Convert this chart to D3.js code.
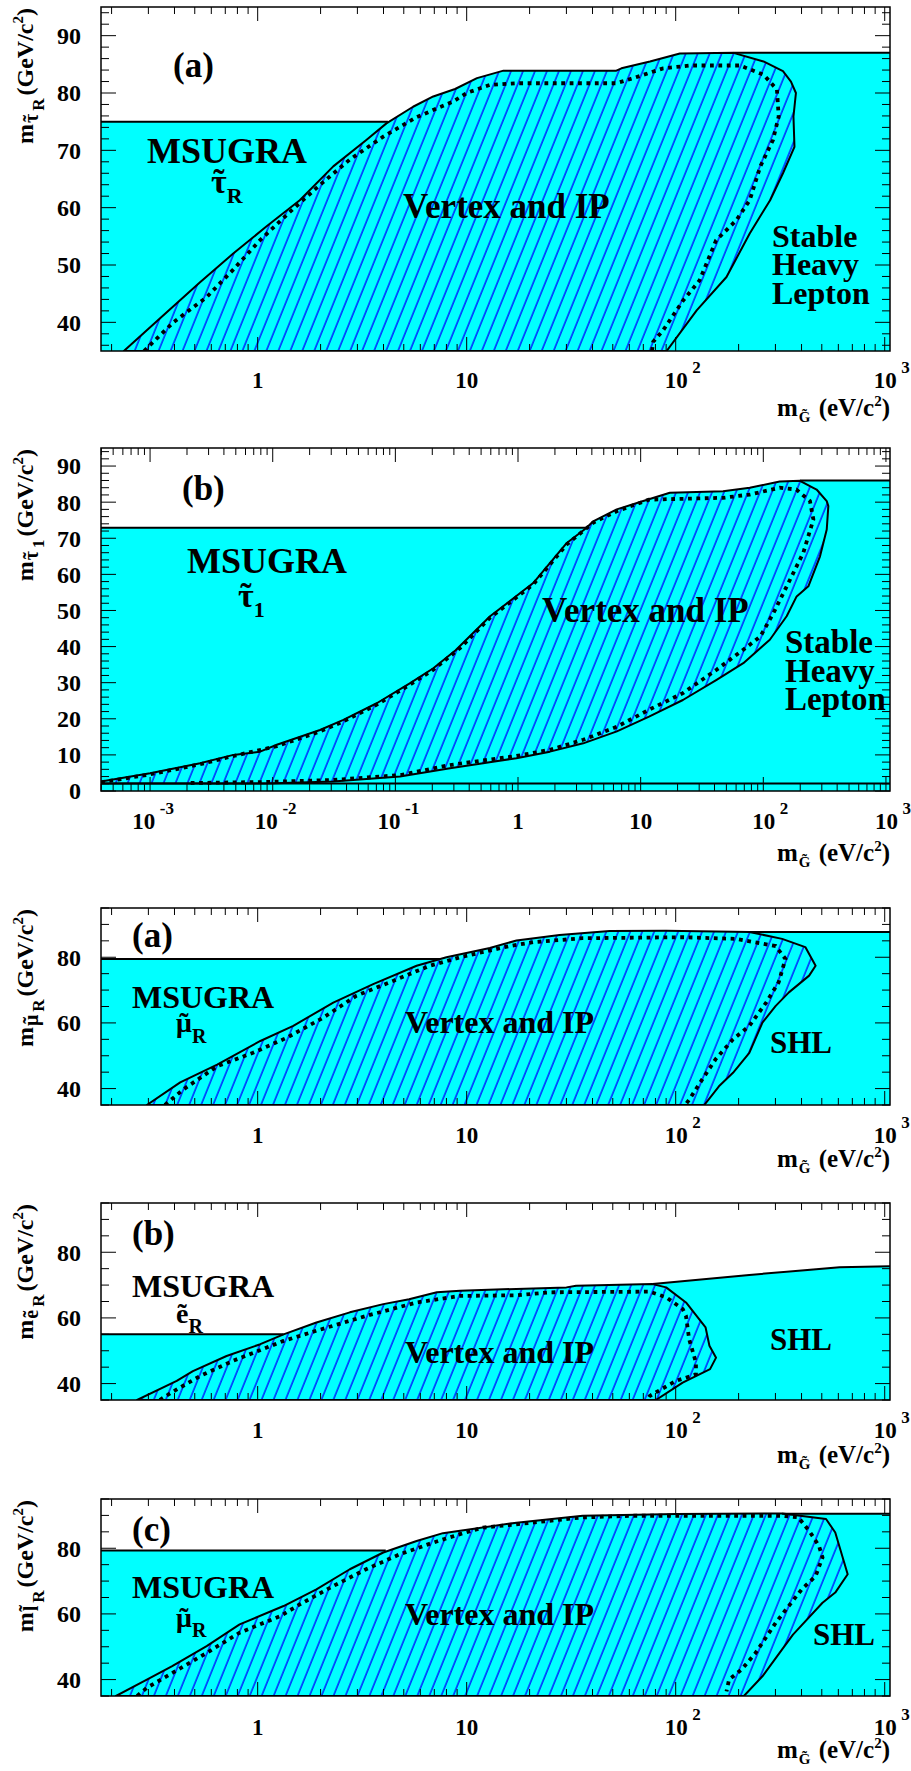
<!DOCTYPE html>
<html><head><meta charset="utf-8">
<script src="https://cdn.jsdelivr.net/npm/d3@7"></script>
<style>
body{margin:0;background:#fff}
svg text{font-family:'Liberation Serif','Times New Roman',serif;font-weight:bold;fill:#000}
</style>
</head><body>
<svg id="chart" width="911" height="1771"></svg>
<script>
// ---------------- DATA ----------------
const xDomainA = [0.178, 1060];
const xDomainB = [3.98e-4, 1079];
const yDomainA = [35, 95];
const yDomainB = [0, 95];

const xTickLabelsA = [[1,"1",""],[10,"10",""],[100,"10","2"],[1000,"10","3"]];
const xTickLabelsB = [[1e-3,"10","-3"],[1e-2,"10","-2"],[1e-1,"10","-1"],[1,"1",""],[10,"10",""],[100,"10","2"],[1000,"10","3"]];
const yTickLabelsP1 = [40,50,60,70,80,90];
const yTickLabelsP2 = [0,10,20,30,40,50,60,70,80,90];
const yTickLabelsSmall = [40,60,80];

// Panel 1: stau_R
const p1Contour = [[0.229,35],[0.353,41.2],[0.53,47.0],[0.764,52.0],[1.10,56.7],[1.59,61.3],[2.30,67.2],[3.31,71.8],[4.13,74.7],[5.54,77.6],[6.92,79.4],[8.8,80.7],[11.2,82.6],[15.0,83.9],[52,83.9],[55,84.3],[75.3,85.5],[104.7,86.9],[189,87.0],[263,85.5],[326,83.8],[356,82.0],[376,80.0],[366,75.9],[370,70.6],[326,66.0],[283,61.3],[226,55.5],[175,47.9],[126,42.1],[90.5,35]];
const p1Dotted = [[0.286,35],[0.395,40.0],[0.57,44.4],[0.764,49.2],[1.025,54.3],[1.43,59.3],[1.99,64.0],[2.76,68.4],[3.99,72.4],[5.77,75.8],[8.6,78.5],[10,80.0],[12.9,81.4],[17.3,81.7],[52,81.7],[62.8,82.6],[87.1,84.3],[117,84.8],[203,84.8],[263,83.2],[305,80.6],[311,75.9],[292,71.8],[254,67.2],[226,61.3],[195,57.8],[156,54.3],[130,47.3],[108.5,43.8],[87,38.6],[78,36.6],[77,35]];
const p1MsugraLevel = 75, p1MsugraEnd = 4.2;
const p1ShlLine = [[189,87.0],[1060,87.0]];

// Panel 2: stau_1
const p2Contour = [[3.98e-4,2.6],[1e-3,4.9],[2.56e-3,7.7],[4.78e-3,10.0],[7.89e-3,10.9],[0.0108,12.8],[0.0243,16.9],[0.0377,19.7],[0.0705,24.3],[0.132,29.9],[0.204,34.0],[0.31,39.0],[0.592,48.4],[1.33,57.6],[2.5,68.7],[3.63,72.9],[4.1,74.7],[6.38,78.0],[10.5,80.3],[17.3,82.6],[47,83.0],[77.5,84.0],[136,85.7],[199,85.9],[272,83.5],[329,80.3],[339,78.9],[329,72.4],[290,65.0],[233,56.7],[187,53.9],[155,48.4],[113,41.9],[68.7,35.4],[41.6,30.8],[22.1,25.2],[11.7,20.6],[6.4,16.5],[3.4,13.2],[1.82,10.9],[0.97,9.1],[0.52,7.7],[0.279,6.3],[0.109,4.0],[0.031,2.6],[0.009,2.1],[3.98e-4,2.1]];
const p2Dotted = [[3.98e-4,2.4],[1e-3,4.6],[2.56e-3,7.4],[4.78e-3,9.7],[0.0108,12.4],[0.0243,16.5],[0.0377,19.3],[0.0705,23.9],[0.132,29.5],[0.204,33.6],[0.337,39.6],[0.592,48.0],[1.33,57.2],[2.5,68.3],[4.1,74.3],[6.38,77.5],[11.7,80.7],[47,81.2],[77.5,82.1],[136,84.0],[186,83.5],[240,80.3],[256,75.2],[212,66.0],[165,58.5],[121,49.3],[94.6,42.8],[68.6,39.1],[41.6,33.6],[22.1,27.1],[11.7,22.5],[6.4,17.8],[3.4,14.2],[1.82,11.4],[0.97,9.7],[0.279,7.2],[0.109,4.4],[0.031,3.05],[0.009,2.5],[0.002,2.2]];
const p2MsugraLevel = 72.9, p2MsugraEnd = 3.63;
const p2ShlLine = [[199,86.0],[1079,86.0]];
const p2FloorLevel = 2.1;

// Panel 3: smuon_R
const p3Contour = [[0.295,35],[0.426,41.9],[0.64,47.3],[1.03,54.5],[1.48,59.1],[2.3,66.2],[3.57,71.8],[5.76,77.4],[8.0,80.0],[12.9,82.8],[17.3,85.1],[27.8,86.8],[48.3,88.0],[89.9,88.1],[225,87.7],[323,85.6],[417,83.1],[467,77.4],[435,74.4],[348,69.3],[301,65.2],[260,60.1],[225,50.9],[188,44.8],[161,40.7],[137,35]];
const p3Dotted = [[0.36,35],[0.44,39.7],[0.64,46.8],[0.95,50.9],[1.38,55.5],[2.06,61.6],[2.97,68.3],[4.45,72.8],[6.64,77.4],[9.3,80.0],[16,83.4],[20.8,84.6],[35.9,85.8],[108,86.1],[194,85.6],[301,83.4],[335,79.5],[311,72.4],[271,66.2],[225,59.1],[188,55.0],[155,48.9],[134,42.8],[116,36.6],[111,35]];
const p3MsugraLevel = 79.5, p3MsugraEnd = 7.5;
const p3ShlLine = [[225,87.7],[1060,87.7]];

// Panel 4: selectron_R
const p4Contour = [[0.265,35],[0.41,40.8],[0.49,43.8],[0.71,48.4],[1.03,52.0],[1.33,55.0],[1.91,58.6],[2.76,61.7],[3.99,64.2],[5.3,65.7],[7.2,67.8],[9.3,68.3],[30,69.3],[33.4,69.8],[77.5,70.3],[90,69.3],[112,64.7],[139,57.1],[145,51.5],[156,47.9],[146,44.4],[108,40.3],[80.4,35]];
const p4Dotted = [[0.34,35],[0.39,37.4],[0.53,42.3],[0.76,46.9],[1.33,53.0],[1.91,56.1],[3.3,60.6],[5.76,64.7],[9.3,66.7],[17.3,66.9],[24.9,67.8],[75,68.0],[90,66.3],[108,62.7],[112,60.6],[116,53.5],[125,46.4],[125,42.8],[100,40.8],[75,36.2],[73,35]];
const p4MsugraLevel = 55.0, p4MsugraEnd = 1.33;
const p4ShlLine = [[77.5,70.3],[225,73.1],[608,75.4],[1060,75.7]];

// Panel 5: slepton_R
const p5Contour = [[0.21,35],[0.295,40],[0.39,44.1],[0.57,50.2],[0.82,56.8],[1.33,62.4],[1.91,67.5],[2.76,73.6],[3.99,78.7],[5.76,82.2],[7.7,84.6],[9.3,85.3],[17.3,87.8],[35.9,89.9],[100,90.4],[323,90.6],[524,88.9],[580,84.8],[665,72.1],[580,66.5],[504,63.4],[364,53.7],[323,49.2],[260,41.0],[212,35]];
const p5Dotted = [[0.265,35],[0.295,37.5],[0.39,42.0],[0.57,48.1],[0.82,54.3],[1.28,59.3],[1.59,62.9],[2.3,68.5],[3.3,73.6],[4.8,78.2],[6.9,81.7],[9.3,84.3],[12,86.3],[17.3,87.3],[35.9,89.4],[62.5,89.9],[323,89.9],[386,89.4],[435,85.3],[485,80.7],[504,77.2],[467,71.5],[401,67.5],[301,57.3],[241,48.1],[207,43.1],[180,40.0],[175,36.4]];
const p5MsugraLevel = 79.3, p5MsugraEnd = 4.1;
const p5ShlLine = [[323,90.5],[1060,90.5]];

// axis-title particles: [tilded letter, subscript]
const ySubs = [["\u03C4","R"],["\u03C4","1"],["\u03BC","R"],["e","R"],["l","R"]];

// ---------------- LAYOUT ----------------
const frameLeft = 101, frameRight = 890;
const layouts = [
  {top:7,   bottom:351,  tickY:388,  titleY:416},
  {top:448, bottom:791,  tickY:829,  titleY:861},
  {top:908, bottom:1105, tickY:1143, titleY:1167},
  {top:1203,bottom:1400, tickY:1438, titleY:1463},
  {top:1499,bottom:1696, tickY:1735, titleY:1758}
];
const annotations = [
  [{p:[{t:"(a)",s:35}],x:173,y:77},{p:[{t:"MSUGRA",s:36}],x:147,y:163},
   {p:[{t:"\u03C4",s:34,tilde:true},{t:"R",s:22,dy:10}],x:211,y:193},
   {p:[{t:"Vertex and IP",s:35}],x:403,y:218},
   {p:[{t:"Stable",s:32}],x:772,y:247},{p:[{t:"Heavy",s:32}],x:772,y:275},{p:[{t:"Lepton",s:32}],x:772,y:304}],
  [{p:[{t:"(b)",s:35}],x:182,y:500},{p:[{t:"MSUGRA",s:36}],x:187,y:573},
   {p:[{t:"\u03C4",s:34,tilde:true},{t:"1",s:22,dy:10}],x:238,y:607},
   {p:[{t:"Vertex and IP",s:35}],x:542,y:622},
   {p:[{t:"Stable",s:33}],x:785,y:653},{p:[{t:"Heavy",s:33}],x:785,y:682},{p:[{t:"Lepton",s:33}],x:785,y:710}],
  [{p:[{t:"(a)",s:35}],x:132,y:947},{p:[{t:"MSUGRA",s:32}],x:132,y:1008},
   {p:[{t:"\u03BC",s:28,tilde:true},{t:"R",s:20,dy:11}],x:176,y:1032},
   {p:[{t:"Vertex and IP",s:32}],x:405,y:1033},{p:[{t:"SHL",s:31}],x:770,y:1053}],
  [{p:[{t:"(b)",s:35}],x:132,y:1245},{p:[{t:"MSUGRA",s:32}],x:132,y:1297},
   {p:[{t:"e",s:28,tilde:true},{t:"R",s:20,dy:10}],x:176,y:1323},
   {p:[{t:"Vertex and IP",s:32}],x:405,y:1363},{p:[{t:"SHL",s:31}],x:770,y:1350}],
  [{p:[{t:"(c)",s:35}],x:132,y:1541},{p:[{t:"MSUGRA",s:32}],x:132,y:1598},
   {p:[{t:"\u03BC",s:28,tilde:true},{t:"R",s:20,dy:10}],x:176,y:1627},
   {p:[{t:"Vertex and IP",s:32}],x:405,y:1625},{p:[{t:"SHL",s:31}],x:813,y:1645}]
];

const panels = [
  {xDomain:xDomainA,yDomain:yDomainA,contour:p1Contour,dotted:p1Dotted,mLevel:p1MsugraLevel,mEnd:p1MsugraEnd,shl:p1ShlLine,floor:null,yLabels:yTickLabelsP1,yMinor:2,yMajor:10,xLabels:xTickLabelsA},
  {xDomain:xDomainB,yDomain:yDomainB,contour:p2Contour,dotted:p2Dotted,mLevel:p2MsugraLevel,mEnd:p2MsugraEnd,shl:p2ShlLine,floor:p2FloorLevel,yLabels:yTickLabelsP2,yMinor:2,yMajor:10,xLabels:xTickLabelsB},
  {xDomain:xDomainA,yDomain:yDomainA,contour:p3Contour,dotted:p3Dotted,mLevel:p3MsugraLevel,mEnd:p3MsugraEnd,shl:p3ShlLine,floor:null,yLabels:yTickLabelsSmall,yMinor:5,yMajor:20,xLabels:xTickLabelsA},
  {xDomain:xDomainA,yDomain:yDomainA,contour:p4Contour,dotted:p4Dotted,mLevel:p4MsugraLevel,mEnd:p4MsugraEnd,shl:p4ShlLine,floor:null,yLabels:yTickLabelsSmall,yMinor:5,yMajor:20,xLabels:xTickLabelsA},
  {xDomain:xDomainA,yDomain:yDomainA,contour:p5Contour,dotted:p5Dotted,mLevel:p5MsugraLevel,mEnd:p5MsugraEnd,shl:p5ShlLine,floor:null,yLabels:yTickLabelsSmall,yMinor:5,yMajor:20,xLabels:xTickLabelsA}
];

const cyan = "#00ffff", hatchBlue = "#0000ff";
const FONT = "'Liberation Serif', 'Times New Roman', serif";

// ---------------- DRAW ----------------
const svg = d3.select("#chart");
const defs = svg.append("defs");
const pat = defs.append("pattern").attr("id","hatch").attr("patternUnits","userSpaceOnUse")
  .attr("width",11.1).attr("height",10).attr("patternTransform","rotate(22)");
pat.append("line").attr("x1",1).attr("x2",1).attr("y1",-1).attr("y2",11)
  .attr("stroke",hatchBlue).attr("stroke-width",1.3);

function styledText(sel, size) {
  return sel.style("font-family", FONT).style("font-weight", "bold").attr("font-size", size);
}

// rich text: pieces laid out left-to-right, measured, with optional tilde accents and gaps
function richText(parent, x, y, pieces, anchor, transform) {
  const g = parent.append("g");
  if (transform) g.attr("transform", transform);
  const nodes = pieces.map(pc => {
    const t = styledText(g.append("text").attr("x",0).attr("y",y + (pc.dy || 0)), pc.s).text(pc.t);
    return {t, w: t.node().getComputedTextLength(), pc};
  });
  const W = d3.sum(nodes, n => n.w + (n.pc.gap || 0));
  let cx = anchor === "end" ? x - W : anchor === "middle" ? x - W / 2 : x;
  nodes.forEach(n => {
    n.t.attr("x", cx);
    if (n.pc.tilde) {
      styledText(g.append("text").attr("x", cx + n.w / 2).attr("y", y + (n.pc.dy || 0) - (n.pc.tildeUp || 0))
        .attr("text-anchor","middle"), n.pc.s).text("\u02DC");
    }
    cx += n.w + (n.pc.gap || 0);
  });
  return g;
}

panels.forEach((p, i) => {
  const L = layouts[i];
  const x = d3.scaleLog().domain(p.xDomain).range([frameLeft, frameRight]);
  const y = d3.scaleLinear().domain(p.yDomain).range([L.bottom, L.top]);
  const line = d3.line().x(d => x(d[0])).y(d => y(d[1]));
  const [x0, x1] = p.xDomain, [y0, y1] = p.yDomain;

  defs.append("clipPath").attr("id","clip"+i).append("rect")
    .attr("x",frameLeft).attr("y",L.top).attr("width",frameRight-frameLeft).attr("height",L.bottom-L.top);
  const g = svg.append("g").attr("clip-path",`url(#clip${i})`);

  // cyan excluded regions
  g.append("rect").attr("x",x(x0)).attr("y",y(p.mLevel)).attr("width",x(x1)-x(x0)).attr("height",y(y0)-y(p.mLevel)).attr("fill",cyan);
  g.append("path").attr("d",line(p.contour)+"Z").attr("fill",cyan);
  const shlPoly = p.shl.concat([[x1,y0],[p.shl[0][0],y0]]);
  g.append("path").attr("d",line(shlPoly)+"Z").attr("fill",cyan);
  // hatch
  g.append("path").attr("d",line(p.contour)+"Z").attr("fill","url(#hatch)");
  // boundary lines
  g.append("path").attr("d",line([[x0,p.mLevel],[p.mEnd,p.mLevel]])).attr("fill","none").attr("stroke","#000").attr("stroke-width",2);
  g.append("path").attr("d",line(p.shl)).attr("fill","none").attr("stroke","#000").attr("stroke-width",2);
  if (p.floor !== null) {
    g.append("path").attr("d",line([[x0,p.floor],[x1,p.floor]])).attr("fill","none").attr("stroke","#000").attr("stroke-width",2);
  }
  g.append("path").attr("d",line(p.contour)+"Z").attr("fill","none").attr("stroke","#000").attr("stroke-width",2).attr("stroke-linejoin","round");
  g.append("path").attr("d",line(p.dotted)).attr("fill","none").attr("stroke","#000").attr("stroke-width",3.8).attr("stroke-dasharray","3.8,4.6");

  // frame
  const f = svg.append("g");
  f.append("rect").attr("x",frameLeft).attr("y",L.top).attr("width",frameRight-frameLeft).attr("height",L.bottom-L.top)
    .attr("fill","none").attr("stroke","#000").attr("stroke-width",1.5);
  const kmin = Math.floor(Math.log10(x0)), kmax = Math.ceil(Math.log10(x1));
  for (let k = kmin; k <= kmax; k++) {
    for (let m = 1; m <= 9; m++) {
      const v = m * Math.pow(10, k);
      if (v < x0 || v > x1) continue;
      const len = m === 1 ? 14 : 7;
      const px = x(v);
      f.append("line").attr("x1",px).attr("x2",px).attr("y1",L.bottom).attr("y2",L.bottom-len).attr("stroke","#000").attr("stroke-width",1);
      f.append("line").attr("x1",px).attr("x2",px).attr("y1",L.top).attr("y2",L.top+len).attr("stroke","#000").attr("stroke-width",1);
    }
  }
  for (let v = Math.ceil(y0 / p.yMinor) * p.yMinor; v <= y1 + 1e-9; v += p.yMinor) {
    const major = Math.abs(v / p.yMajor - Math.round(v / p.yMajor)) < 1e-6;
    const len = major ? 15 : 8;
    const py = y(v);
    f.append("line").attr("x1",frameLeft).attr("x2",frameLeft+len).attr("y1",py).attr("y2",py).attr("stroke","#000").attr("stroke-width",1);
    f.append("line").attr("x1",frameRight).attr("x2",frameRight-len).attr("y1",py).attr("y2",py).attr("stroke","#000").attr("stroke-width",1);
  }
  p.yLabels.forEach(v => {
    styledText(f.append("text").attr("x",81).attr("y",y(v)).attr("dy","0.35em").attr("text-anchor","end"), 24).text(v);
  });
  p.xLabels.forEach(([v, base, ex]) => {
    const shift = ex === "" ? 0 : (ex[0] === "-" ? 3 : 7);
    const pcs = [{t:base,s:23}];
    if (ex !== "") pcs.push({t:"\u2009",s:23},{t:ex,s:17,dy:-15});
    richText(f, x(v)+shift, L.tickY, pcs, "middle");
  });
  // x title
  richText(f, frameRight, L.titleY, [
    {t:"m",s:25,gap:1},{t:"G",s:15,dy:6,tilde:true,tildeUp:3,gap:2},{t:"\u00A0(eV/c",s:25},{t:"2",s:15,dy:-10},{t:")",s:25}
  ], "end");
  // y title (rotated)
  richText(f, 0, 0, [
    {t:"m",s:24,gap:1},{t:ySubs[i][0],s:20,dy:5,tilde:true,tildeUp:(ySubs[i][0]==="l"?4:0),gap:3},{t:ySubs[i][1],s:17,dy:11,gap:3},
    {t:"(GeV/c",s:24},{t:"2",s:15,dy:-10},{t:")",s:24}
  ], "end", `translate(33,${L.top+1}) rotate(-90)`);

  annotations[i].forEach(a => richText(f, a.x, a.y, a.p, "start"));
});
</script>
</body></html>
